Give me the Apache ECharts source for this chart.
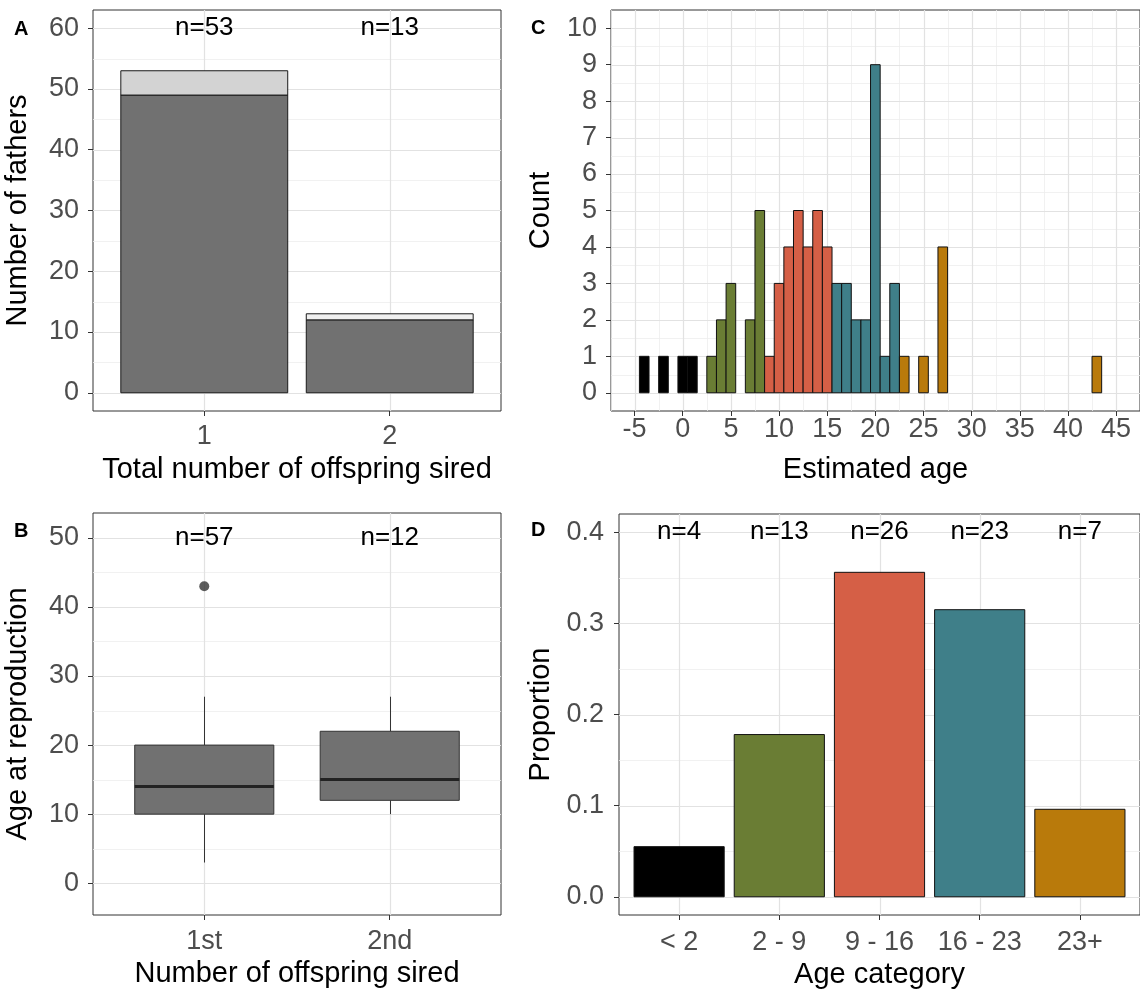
<!DOCTYPE html>
<html>
<head>
<meta charset="utf-8">
<script src="https://cdn.jsdelivr.net/npm/echarts@6/dist/echarts.min.js"></script>
<style>
html,body{margin:0;padding:0;background:#ffffff;}
#chart{width:1140px;height:991px;}
</style>
</head>
<body>
<div id="chart"></div>
<script>
// ---------- Data ----------
const offspringCats = ['1', '2'];
const fathersMain = [49, 12];
const fathersExtra = [4, 1];
const fathersN = ['n=53', 'n=13'];

const boxCats = ['1st', '2nd'];
// [min, Q1, median, Q3, max]
const boxStats = [[3, 10, 14, 20, 27], [10, 12, 15, 22, 27]];
const boxOutliers = [[1, 43]];
const boxN = ['n=57', 'n=12'];

const histAge =   [-4, -2, 0, 1, 3, 4, 5, 7, 8, 9, 10, 11, 12, 13, 14, 15, 16, 17, 18, 19, 20, 21, 22, 23, 25, 27, 43];
const histCount = [ 1,  1, 1, 1, 1, 2, 3, 2, 5, 1,  3,  4,  5,  4,  5,  4,  3,  3,  2,  2,  9,  1,  3,  1,  1,  4,  1];
const histGroup = [ 0,  0, 0, 0, 1, 1, 1, 1, 1, 2,  2,  2,  2,  2,  2,  2,  3,  3,  3,  3,  3,  3,  3,  4,  4,  4,  4];

const ageCats = ['< 2', '2 - 9', '9 - 16', '16 - 23', '23+'];
const ageProp = [0.055, 0.178, 0.356, 0.315, 0.096];
const ageN = ['n=4', 'n=13', 'n=26', 'n=23', 'n=7'];

const ticksA = [0, 10, 20, 30, 40, 50, 60];
const ticksB = [0, 10, 20, 30, 40, 50];
const ticksCy = [0, 1, 2, 3, 4, 5, 6, 7, 8, 9, 10];
const ticksCx = [-5, 0, 5, 10, 15, 20, 25, 30, 35, 40, 45];
const ticksD = [0, 0.1, 0.2, 0.3, 0.4];

// ---------- Styles ----------
const FONT = '"Liberation Sans", Arial, sans-serif';
const ageColors = ['#000000', '#6a7d34', '#d55f46', '#3f7f89', '#b97a0b'];
const barGrey = '#717171';
const tickColor = '#4d4d4d';
const MAJOR = '#e2e2e2', MINOR = '#eeeeee';
const TICK_FS = 27, TITLE_FS = 29, N_FS = 26;

function mids(arr) { const r = []; for (let i = 0; i < arr.length - 1; i++) r.push((arr[i] + arr[i + 1]) / 2); return r; }

function gridLineSeries(idx, hMajor, hMinor, vMajor, vMinor) {
  const data = [];
  hMinor.forEach(v => data.push([0, v, 0]));
  vMinor.forEach(v => data.push([1, v, 0]));
  hMajor.forEach(v => data.push([0, v, 1]));
  vMajor.forEach(v => data.push([1, v, 1]));
  return {
    type: 'custom', xAxisIndex: idx, yAxisIndex: idx, silent: true, z: 1, clip: true,
    encode: { x: [], y: [] },
    data: data,
    renderItem: function (params, api) {
      const cs = params.coordSys;
      const o = api.value(0), v = api.value(1), m = api.value(2);
      const style = { stroke: m ? MAJOR : MINOR, lineWidth: m ? 1.2 : 0.8 };
      if (o === 0) {
        const y = Math.round(api.coord([0, v])[1]) + 0.5;
        return { type: 'line', shape: { x1: cs.x, y1: y, x2: cs.x + cs.width, y2: y }, style: style };
      } else {
        const x = Math.round(api.coord([v, 0])[0]) + 0.5;
        return { type: 'line', shape: { x1: x, y1: cs.y, x2: x, y2: cs.y + cs.height }, style: style };
      }
    }
  };
}

function textSeries(idx, xs, y, texts, size) {
  return {
    type: 'custom', xAxisIndex: idx, yAxisIndex: idx, silent: true, z: 5, clip: false,
    encode: { x: [], y: [] },
    data: xs.map((x, i) => [x, y, i]),
    renderItem: function (params, api) {
      const p = api.coord([api.value(0), api.value(1)]);
      return { type: 'text', x: p[0], y: p[1],
        style: { text: texts[params.dataIndex], fill: '#000', fontSize: size, fontFamily: FONT, align: 'center', verticalAlign: 'middle' } };
    }
  };
}

function valueAxis(idx, min, max, ticks, fmt, name, nameGap, margin) {
  return {
    gridIndex: idx, type: 'value', min: min, max: max,
    axisLine: { show: false, onZero: false },
    axisTick: { show: true, length: 5, customValues: ticks, lineStyle: { color: '#333', width: 1 } },
    axisLabel: { show: true, customValues: ticks, formatter: fmt, color: tickColor, fontSize: TICK_FS, fontFamily: FONT, margin: margin },
    splitLine: { show: false }, minorSplitLine: { show: false },
    name: name, nameLocation: 'middle', nameGap: nameGap,
    nameTextStyle: { color: '#000', fontSize: TITLE_FS, fontFamily: FONT }
  };
}

const gridBase = { show: true, borderColor: '#333', borderWidth: 1, backgroundColor: '#fff' };

const option = {
  animation: false,
  backgroundColor: '#ffffff',
  grid: [
    Object.assign({ left: 93, top: 10, width: 408, height: 401 }, gridBase),
    Object.assign({ left: 93, top: 513, width: 408, height: 402 }, gridBase),
    Object.assign({ left: 611, top: 10, width: 535, height: 401 }, gridBase),
    Object.assign({ left: 619, top: 514, width: 527, height: 401 }, gridBase)
  ],
  xAxis: [
    valueAxis(0, 0.4, 2.6, [1, 2], v => offspringCats[Math.round(v) - 1], 'Total number of offspring sired', 44, 12),
    valueAxis(1, 0.4, 2.6, [1, 2], v => boxCats[Math.round(v) - 1], 'Number of offspring sired', 44, 13),
    valueAxis(2, -7.45, 47.48, ticksCx, v => String(v), 'Estimated age', 44, 5),
    valueAxis(3, 0.4, 5.6, [1, 2, 3, 4, 5], v => ageCats[Math.round(v) - 1], 'Age category', 45, 14)
  ],
  yAxis: [
    valueAxis(0, -3, 63, ticksA, v => String(v), 'Number of fathers', 61, 14),
    valueAxis(1, -4.6, 53.6, ticksB, v => String(v), 'Age at reproduction', 61, 14),
    valueAxis(2, -0.5, 10.5, ticksCy, v => String(v), 'Count', 56, 14),
    valueAxis(3, -0.02, 0.42, ticksD, v => v.toFixed(1), 'Proportion', 64, 15)
  ],
  graphic: [
    { type: 'text', left: 14, top: 19, style: { text: 'A', font: 'bold 20px ' + FONT, fill: '#000' } },
    { type: 'text', left: 14, top: 521, style: { text: 'B', font: 'bold 20px ' + FONT, fill: '#000' } },
    { type: 'text', left: 531, top: 18, style: { text: 'C', font: 'bold 20px ' + FONT, fill: '#000' } },
    { type: 'text', left: 531, top: 520, style: { text: 'D', font: 'bold 20px ' + FONT, fill: '#000' } }
  ],
  series: [
    // ---- Panel A ----
    gridLineSeries(0, ticksA, mids(ticksA), [1, 2], []),
    {
      type: 'custom', xAxisIndex: 0, yAxisIndex: 0, z: 2,
      encode: { x: 0, y: [1, 2] },
      data: (function () {
        const d = [];
        fathersMain.forEach((v, i) => d.push([i + 1, 0, v, 0, i]));
        fathersExtra.forEach((v, i) => d.push([i + 1, fathersMain[i], fathersMain[i] + v, 1, i]));
        return d;
      })(),
      renderItem: function (params, api) {
        const x = api.value(0), y0 = api.value(1), y1 = api.value(2), kind = api.value(3), ci = api.value(4);
        const a = api.coord([x - 0.45, y0]), b = api.coord([x + 0.45, y1]);
        const fill = kind === 0 ? barGrey : (ci === 0 ? '#d3d3d3' : '#f0f0f0');
        return { type: 'rect', shape: { x: a[0], y: b[1], width: b[0] - a[0], height: a[1] - b[1] },
          style: { fill: fill, stroke: '#1a1a1a', lineWidth: 1 } };
      }
    },
    textSeries(0, [1, 2], 60, fathersN, N_FS),

    // ---- Panel B ----
    gridLineSeries(1, ticksB, mids(ticksB), [1, 2], []),
    {
      type: 'custom', xAxisIndex: 1, yAxisIndex: 1, z: 2,
      encode: { x: 0, y: [1, 5] },
      data: boxStats.map((s, i) => [i + 1].concat(s)),
      renderItem: function (params, api) {
        const x = api.value(0);
        const mn = api.value(1), q1 = api.value(2), md = api.value(3), q3 = api.value(4), mx = api.value(5);
        const c = api.coord([x, md]);
        const l = api.coord([x - 0.375, q1]), r = api.coord([x + 0.375, q3]);
        const pMin = api.coord([x, mn]), pMax = api.coord([x, mx]);
        const cx = Math.round(c[0]) + 0.5;
        return { type: 'group', children: [
          { type: 'line', shape: { x1: cx, y1: pMax[1], x2: cx, y2: r[1] }, style: { stroke: '#333', lineWidth: 1 } },
          { type: 'line', shape: { x1: cx, y1: l[1], x2: cx, y2: pMin[1] }, style: { stroke: '#333', lineWidth: 1 } },
          { type: 'rect', shape: { x: l[0], y: r[1], width: r[0] - l[0], height: l[1] - r[1] }, style: { fill: barGrey, stroke: '#333', lineWidth: 1 } },
          { type: 'line', shape: { x1: l[0], y1: c[1], x2: r[0], y2: c[1] }, style: { stroke: '#222', lineWidth: 3 } }
        ] };
      }
    },
    {
      type: 'scatter', xAxisIndex: 1, yAxisIndex: 1, z: 3, silent: true,
      symbolSize: 10, itemStyle: { color: '#333' },
      data: boxOutliers
    },
    textSeries(1, [1, 2], 50, boxN, N_FS),

    // ---- Panel C ----
    gridLineSeries(2, ticksCy, mids(ticksCy), ticksCx, [-7.5].concat(mids(ticksCx)).concat([47.5])),
    {
      type: 'custom', xAxisIndex: 2, yAxisIndex: 2, z: 2,
      encode: { x: 0, y: 1 },
      data: histAge.map((a, i) => [a, histCount[i], histGroup[i]]),
      renderItem: function (params, api) {
        const x = api.value(0), y = api.value(1), g = api.value(2);
        const a = api.coord([x - 0.5, 0]), b = api.coord([x + 0.5, y]);
        return { type: 'rect', shape: { x: a[0], y: b[1], width: b[0] - a[0], height: a[1] - b[1] },
          style: { fill: ageColors[g], stroke: '#111', lineWidth: 1 } };
      }
    },

    // ---- Panel D ----
    gridLineSeries(3, ticksD, mids(ticksD), [1, 2, 3, 4, 5], []),
    {
      type: 'custom', xAxisIndex: 3, yAxisIndex: 3, z: 2,
      encode: { x: 0, y: 1 },
      data: ageProp.map((p, i) => [i + 1, p, i]),
      renderItem: function (params, api) {
        const x = api.value(0), y = api.value(1), g = api.value(2);
        const a = api.coord([x - 0.45, 0]), b = api.coord([x + 0.45, y]);
        return { type: 'rect', shape: { x: a[0], y: b[1], width: b[0] - a[0], height: a[1] - b[1] },
          style: { fill: ageColors[g], stroke: '#111', lineWidth: 1 } };
      }
    },
    textSeries(3, [1, 2, 3, 4, 5], 0.4, ageN, N_FS)
  ]
};

const chart = echarts.init(document.getElementById('chart'), null, { renderer: 'canvas' });
chart.setOption(option);
</script>
</body>
</html>
